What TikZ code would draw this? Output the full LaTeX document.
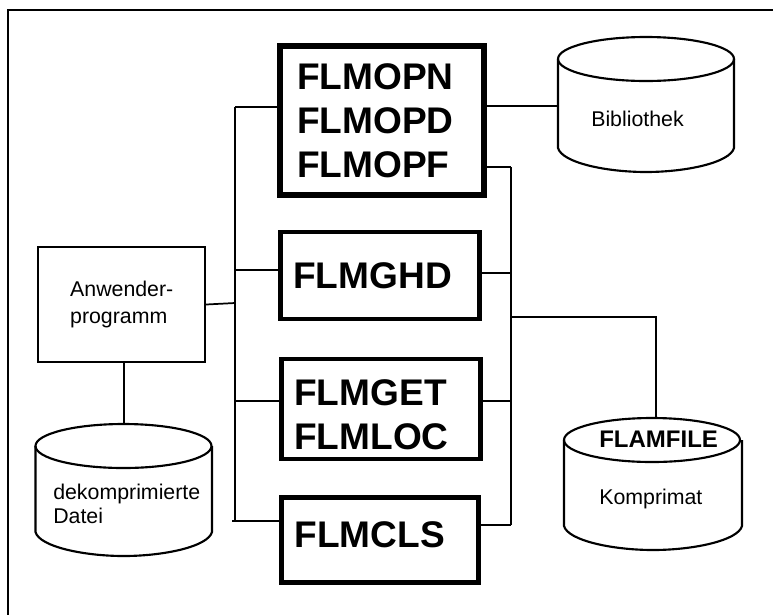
\documentclass[tikz,border=0pt]{standalone}
\usepackage{fontspec}
\setmainfont{Liberation Sans}

\newcommand{\BigFont}{\fontsize{27.8}{33}\bfseries\selectfont}
\newcommand{\SmallFont}{\fontsize{16}{20}\selectfont}
% barrel outline around the empty node #1
\newcommand{\DrawStore}[1]{
	\draw[line width=1.6pt] ([yshift=-16.5pt]#1.north west) arc[start angle=180,end angle=-180,x radius=66pt,y radius=16.5pt];
	\draw[line width=1.6pt] ([yshift=-16.5pt]#1.north west) -- ([yshift=18pt]#1.south west)
		.. controls ([xshift=3pt,yshift=7pt]#1.south west) and ([xshift=-30pt]#1.south) .. (#1.south)
		.. controls ([xshift=30pt]#1.south) and ([xshift=-3pt,yshift=7pt]#1.south east) .. ([yshift=18pt]#1.south east)
		-- ([yshift=-16.5pt]#1.north east);
}

\begin{document}
\begin{tikzpicture}[x=0.75pt,y=-0.75pt,% all positions are taken in pixels of the page
			every node/.style={
				align=left,		% so that "\\" breaks the line
				inner sep=0pt
			},
			every edge/.style={draw,line width=1.3pt},
			routine/.style={rectangle,draw=black,font=\BigFont},
			plainbox/.style={rectangle,draw=black,line width=1.6pt,font=\SmallFont},
			store/.style={rectangle,outer sep=0pt},
			storetext/.style={anchor=base west,font=\SmallFont}
		]
		\useasboundingbox (0,0) rectangle (773,615);
		\draw[line width=1.5pt] (773,10) -- (7.5,10) -- (7.5,615);

		\node[routine,line width=4.5pt,minimum width=153pt,minimum height=111.75pt,text width=127.5pt](OPN) at (382,120.5){FLMOPN\\FLMOPD\\FLMOPF};
		\node[routine,line width=3.6pt,minimum width=149pt,minimum height=65.25pt,text width=130pt](GHD) at (380,275.5){FLMGHD};
		\node[routine,line width=3.4pt,minimum width=149.25pt,minimum height=75pt,text width=130pt](GET) at (381,409){\rule{0pt}{27.5pt}FLMGET\\FLMLOC};
		\node[routine,line width=3.4pt,minimum width=147.75pt,minimum height=63.75pt,text width=128pt,text depth=7.5pt](CLS) at (380,540){FLMCLS};

		\node[plainbox,minimum width=125.25pt,minimum height=86.5pt,text width=77pt](Prog) at (121.5,304.5){\mbox{Anwender-}\\programm};

		\node[store,minimum width=132pt,minimum height=101.25pt](Bib) at (646,104.5){};
		\node[store,minimum width=133.5pt,minimum height=99pt](Flam) at (653,484){};
		\node[store,minimum width=132.4pt,minimum height=99pt](Dek) at (123.75,490){};
		\DrawStore{Bib}
		\DrawStore{Flam}
		\DrawStore{Dek}

		\node[storetext](BibText) at (591,126){Bibliothek};
		\node[storetext](KompText) at (599,504){Komprimat};
		\node[storetext,font=\fontsize{18}{22}\bfseries\selectfont](FlamText) at (599,447){FLAMFILE};
		\node[storetext,font=\fontsize{16}{17.6}\selectfont](DekText) at (53,523){dekomprimierte\\Datei};

		% joints on the two bus lines
		\coordinate (LOPN) at (235,107);
		\coordinate (LGHD) at (235,270);
		\coordinate (LProg) at (235,303);
		\coordinate (LGET) at (235,401);
		\coordinate (LCLS) at (235,521);
		\coordinate (ROPN) at (511,167);
		\coordinate (RGHD) at (511,273);
		\coordinate (RFlam) at (511,317);
		\coordinate (RGET) at (511,401);
		\coordinate (RCLS) at (511,525);
		\coordinate (BibJoin) at (558,106);
		\coordinate (FlamJoin) at (656,418);

		\path
		(LOPN)edge (LCLS)
		(ROPN)edge (RCLS)
		(LOPN)edge (LOPN -| OPN.west)
		(LGHD)edge (LGHD -| GHD.west)
		(LGET)edge (LGET -| GET.west)
		([xshift=-2pt]LCLS)edge (LCLS -| CLS.west)
		(ROPN)edge (ROPN -| OPN.east)
		(RGHD)edge (RGHD -| GHD.east)
		(RGET)edge (RGET -| GET.east)
		(RCLS)edge (RCLS -| CLS.east)
		(BibJoin -| OPN.east)edge (BibJoin)
		(Dek.north)edge (Dek.north |- Prog.south)
		(LProg)edge (Prog.east)
		;
		\draw[line width=1.3pt] (RFlam) -| (FlamJoin);
	\end{tikzpicture}
\end{document}
